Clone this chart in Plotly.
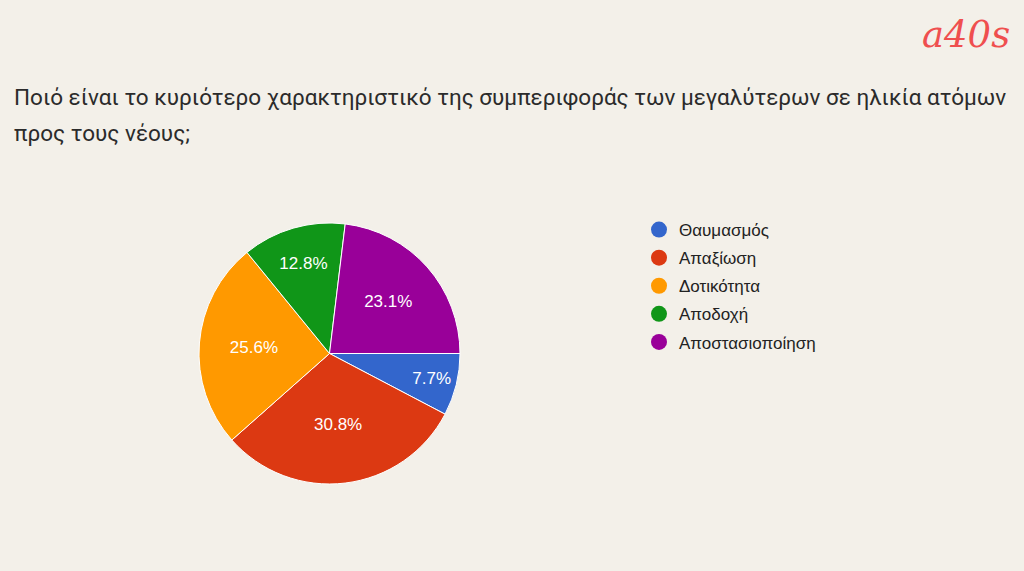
import plotly.graph_objects as go

labels = ["Θαυμασμός", "Απαξίωση", "Δοτικότητα", "Αποδοχή", "Αποστασιοποίηση"]
counts = [3, 12, 10, 5, 9]
colors = ["#3366cc", "#dc3912", "#ff9900", "#109618", "#990099"]

title_lines = [
    "Ποιό είναι το κυριότερο χαρακτηριστικό της συμπεριφοράς των μεγαλύτερων σε ηλικία ατόμων",
    "προς τους νέους;",
]

bg = "#f3f0e9"
W, H = 1024, 571

fig = go.Figure()
fig.add_trace(go.Pie(
    labels=labels, values=counts, sort=False, direction="clockwise", rotation=90,
    marker=dict(colors=colors, line=dict(color="#ffffff", width=1)),
    textinfo="percent", texttemplate="%{percent:.1%}", textposition="inside",
    insidetextorientation="horizontal",
    insidetextfont=dict(color="#ffffff", size=17, family="Arial, Liberation Sans"),
    showlegend=False, hoverinfo="label+percent",
    domain=dict(x=[199 / W, 460 / W], y=[1 - 484 / H, 1 - 223 / H]),
))

# legend entries with round markers, one group each so the gap can be set
for name, col in zip(labels, colors):
    fig.add_trace(go.Scatter(
        x=[None], y=[None], mode="markers", name=name, legendgroup=name,
        marker=dict(color=col, size=17, symbol="circle"),
    ))

title_ann = []
for i, line in enumerate(title_lines):
    title_ann.append(dict(
        text=line, x=12 / W, y=1 - (112 + 36 * i) / H,
        xref="paper", yref="paper", xanchor="left", yanchor="bottom",
        showarrow=False, font=dict(size=22.5, color="#2b2b2b", family="Roboto"),
    ))

fig.update_layout(
    width=W, height=H,
    margin=dict(l=0, r=0, t=0, b=0),
    paper_bgcolor=bg, plot_bgcolor=bg,
    xaxis=dict(visible=False), yaxis=dict(visible=False),
    legend=dict(
        x=639 / W, y=1 - 212 / H, xanchor="left", yanchor="top",
        font=dict(size=17, color="#222222", family="Arial, Liberation Sans"),
        tracegroupgap=3, bgcolor="rgba(0,0,0,0)", itemclick=False,
    ),
    annotations=title_ann + [
        dict(text="<i>a40s</i>", x=1012 / W, y=1 - 11 / H, xref="paper", yref="paper",
             xanchor="right", yanchor="top", showarrow=False,
             font=dict(size=37, color="#ef4f4f", family="DejaVu Serif")),
    ],
)

fig.write_html("out.html", config={"displayModeBar": False},
               post_script="document.body.style.margin='0';")
